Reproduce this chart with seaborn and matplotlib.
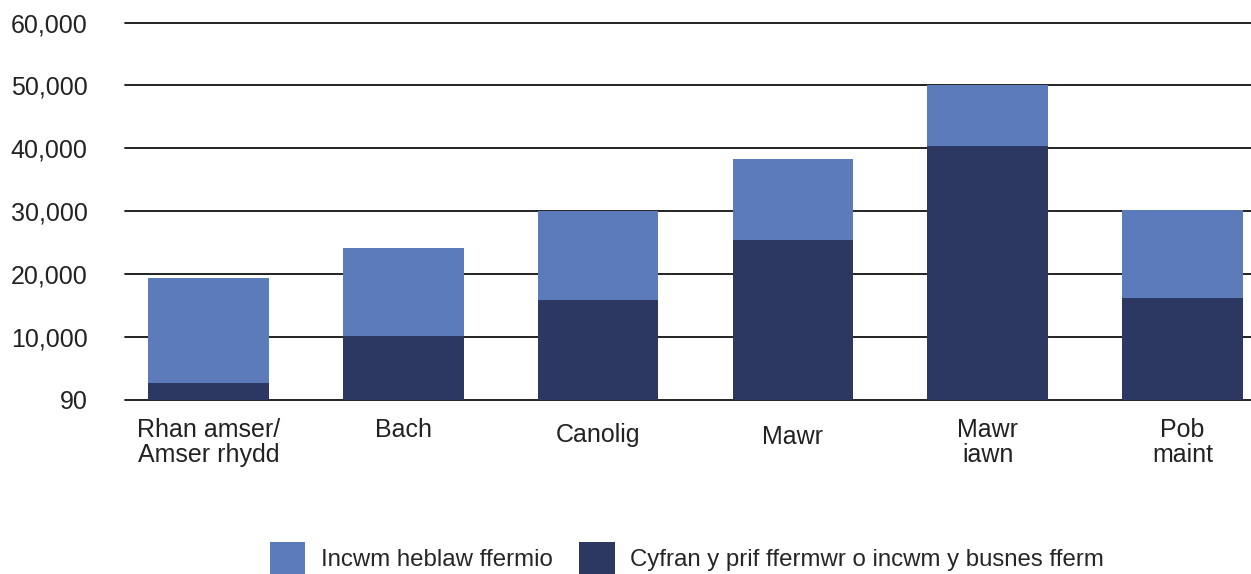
import matplotlib
matplotlib.use("Agg")
import matplotlib.pyplot as plt
import matplotlib.transforms as mtransforms
import seaborn as sns
import pandas as pd
from matplotlib.patches import Patch

categories = ["Rhan amser/\nAmser rhydd", "Bach", "Canolig", "Mawr", "Mawr\niawn", "Pob\nmaint"]
farm_share = [2600, 10100, 15800, 25400, 40300, 16150]
non_farm = [16700, 14000, 14250, 12900, 9750, 14050]
totals = [a + b for a, b in zip(farm_share, non_farm)]
y_ticks = [0, 10000, 20000, 30000, 40000, 50000, 60000]
y_tick_labels = ["90", "10,000", "20,000", "30,000", "40,000", "50,000", "60,000"]
series_names = ["Incwm heblaw ffermio", "Cyfran y prif ffermwr o incwm y busnes fferm"]

light = "#5B7BBA"
dark = "#2C3861"

sns.set_theme(style="white")
plt.rcParams["font.family"] = ["Liberation Sans", "DejaVu Sans"]

fig = plt.figure(figsize=(12.51, 5.74), dpi=100)
ax = fig.add_axes([125 / 1251, 1 - 399.5 / 574, (1251 - 125) / 1251, 377 / 574])

df = pd.DataFrame({"cat": categories, "total": totals, "farm": farm_share})
for v in y_ticks:
    ax.axhline(v, color="#111111", lw=1.3, zorder=0, clip_on=False)
sns.barplot(data=df, x="cat", y="total", color=light, width=0.62, saturation=1,
            linewidth=0, edgecolor="none", ax=ax, zorder=2)
sns.barplot(data=df, x="cat", y="farm", color=dark, width=0.62, saturation=1,
            linewidth=0, edgecolor="none", ax=ax, zorder=3)

ax.set_xlim(-0.428, 5.351)
ax.set_ylim(0, 60000)
ax.set_yticks(y_ticks)
ax.set_yticklabels(y_tick_labels, fontsize=18, color="#222222")
ax.set_xticks(range(len(categories)))
ax.set_xticklabels(categories, fontsize=18, color="#222222", linespacing=1.05)
ax.tick_params(axis="y", length=0, pad=27)
ax.tick_params(axis="x", length=0, pad=13)
ax.set_xlabel("")
ax.set_ylabel("")
for s in ax.spines.values():
    s.set_visible(False)

# slight vertical staggering of some category labels, as in the original
label_drop_px = [0, 0, 5, 7, 0, 0]
for lbl, d in zip(ax.get_xticklabels(), label_drop_px):
    if d:
        lbl.set_transform(lbl.get_transform() + mtransforms.ScaledTranslation(0, -d / 100, fig.dpi_scale_trans))

handles = [Patch(facecolor=light, edgecolor="none"), Patch(facecolor=dark, edgecolor="none")]
fig.legend(handles, series_names, loc="lower left", bbox_to_anchor=(270 / 1251, 0.0),
           ncol=2, frameon=False, fontsize=17.3, handlelength=1.47, handleheight=1.7,
           handletextpad=0.65, columnspacing=1.1, borderpad=0, borderaxespad=0)

fig.savefig("out.png", dpi=100)
